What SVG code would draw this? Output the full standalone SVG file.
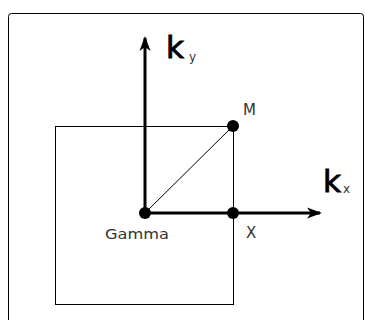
<svg xmlns="http://www.w3.org/2000/svg" width="365" height="320" viewBox="0 0 365 320">
<style>
.lbl{font-family:"DejaVu Sans","Verdana",sans-serif;fill:#333;}
.big{font-family:"DejaVu Sans","Verdana",sans-serif;fill:#000;stroke:#000;stroke-width:0.9;}
.thin{stroke:#000;stroke-width:1;fill:none;}
.axis{stroke:#000;stroke-width:3;fill:none;}
.dot{fill:#000;}
</style>
<defs>
<marker id="arr" viewBox="0 0 16 12" refX="14" refY="6" markerWidth="16" markerHeight="12" markerUnits="userSpaceOnUse" orient="auto">
<path d="M1,0.5 L16,6 L1,11.5 L5,6 Z" fill="#000"/>
</marker>
</defs>
<rect x="8.5" y="13.5" width="355" height="320" rx="3" fill="#fff" stroke="#000" stroke-width="1"/>
<g id="square"><rect class="thin" x="55.5" y="126.5" width="178" height="178"/></g>
<g id="connectors">
<line class="thin" x1="145" y1="213" x2="233" y2="126"/>
<line class="axis" x1="145" y1="213" x2="145" y2="38" marker-end="url(#arr)"/>
<line class="axis" x1="145" y1="213" x2="320" y2="213" marker-end="url(#arr)"/>
</g>
<g id="gamma"><circle class="dot" cx="145" cy="213" r="6"/><text class="lbl" x="105" y="239" font-size="14" textLength="64" lengthAdjust="spacingAndGlyphs">Gamma</text></g>
<g id="m"><circle class="dot" cx="233" cy="126" r="6"/><text class="lbl" x="243" y="115" font-size="15">M</text></g>
<g id="x"><circle class="dot" cx="233" cy="213" r="6"/><text class="lbl" x="246" y="238" font-size="15">X</text></g>
<g id="ky"><text class="big" x="166" y="58" font-size="31">k</text><text class="lbl" x="189" y="61" font-size="12">y</text></g>
<g id="kx"><text class="big" x="323" y="192" font-size="31">k</text><text class="lbl" x="343" y="193" font-size="12">x</text></g>
</svg>
